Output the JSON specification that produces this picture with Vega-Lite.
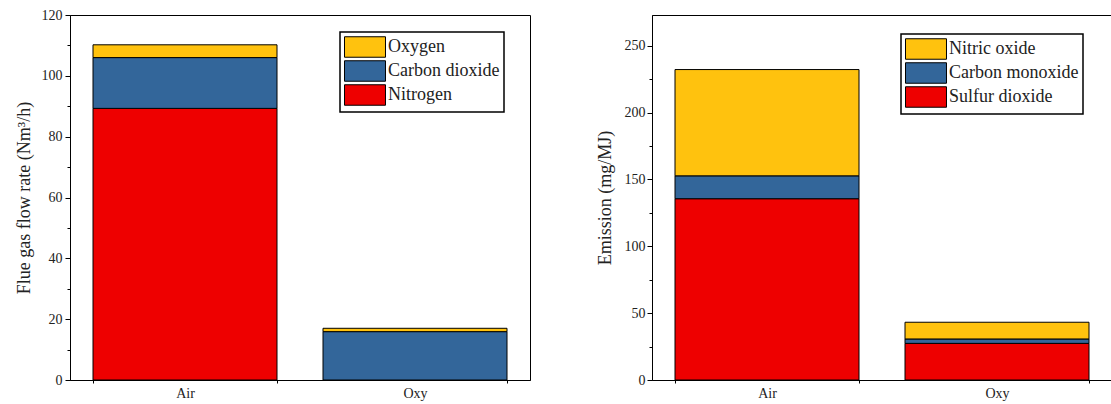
{
  "$schema": "https://vega.github.io/schema/vega-lite/v6.json",
  "padding": {"left": 14, "top": 7, "right": 0, "bottom": 0},
  "datasets": {
    "flow": [
      {"mode": "Air", "gas": "Nitrogen", "value": 89.3, "stack": 1},
      {"mode": "Air", "gas": "Carbon dioxide", "value": 16.7, "stack": 2},
      {"mode": "Air", "gas": "Oxygen", "value": 4.2, "stack": 3},
      {"mode": "Oxy", "gas": "Carbon dioxide", "value": 15.9, "stack": 2},
      {"mode": "Oxy", "gas": "Oxygen", "value": 1.1, "stack": 3}
    ],
    "emission": [
      {"mode": "Air", "gas": "Sulfur dioxide", "value": 135.6, "stack": 1},
      {"mode": "Air", "gas": "Carbon monoxide", "value": 17.1, "stack": 2},
      {"mode": "Air", "gas": "Nitric oxide", "value": 79.5, "stack": 3},
      {"mode": "Oxy", "gas": "Sulfur dioxide", "value": 27.4, "stack": 1},
      {"mode": "Oxy", "gas": "Carbon monoxide", "value": 3.3, "stack": 2},
      {"mode": "Oxy", "gas": "Nitric oxide", "value": 12.5, "stack": 3}
    ]
  },
  "hconcat": [
    {
      "width": 460,
      "height": 365,
      "data": {"name": "flow"},
      "mark": {"type": "bar", "stroke": "black", "strokeWidth": 1},
      "encoding": {
        "x": {
          "field": "mode", "type": "nominal", "sort": ["Air", "Oxy"],
          "scale": {"paddingInner": 0.2, "paddingOuter": 0.1},
          "axis": {"title": null, "labelAngle": 0, "ticks": true, "tickBand": "extent", "tickSize": 3, "labelFontSize": 14, "labelPadding": 3}
        },
        "y": {
          "field": "value", "type": "quantitative", "stack": "zero",
          "scale": {"domain": [0, 120], "nice": false},
          "axis": {
            "title": "Flue gas flow rate (Nm³/h)",
            "values": [0, 10, 20, 30, 40, 50, 60, 70, 80, 90, 100, 110, 120],
            "labelExpr": "datum.value % 20 === 0 ? datum.label : ''",
            "tickSize": {"condition": {"test": "datum.value % 20 === 0", "value": 5}, "value": 3},
            "labelPadding": 3,
            "titlePadding": 8
          }
        },
        "color": {
          "field": "gas", "type": "nominal",
          "scale": {"domain": ["Oxygen", "Carbon dioxide", "Nitrogen"], "range": ["#FFC20E", "#33669A", "#EE0000"]},
          "legend": {"orient": "none", "legendX": 270, "legendY": 17, "title": null}
        },
        "order": {"field": "stack", "type": "quantitative"}
      }
    },
    {
      "width": 460,
      "height": 365,
      "data": {"name": "emission"},
      "mark": {"type": "bar", "stroke": "black", "strokeWidth": 1},
      "encoding": {
        "x": {
          "field": "mode", "type": "nominal", "sort": ["Air", "Oxy"],
          "scale": {"paddingInner": 0.2, "paddingOuter": 0.1},
          "axis": {"title": null, "labelAngle": 0, "ticks": true, "tickBand": "extent", "tickSize": 3, "labelFontSize": 14, "labelPadding": 3}
        },
        "y": {
          "field": "value", "type": "quantitative", "stack": "zero",
          "scale": {"domain": [0, 273], "nice": false},
          "axis": {
            "title": "Emission (mg/MJ)",
            "values": [0, 25, 50, 75, 100, 125, 150, 175, 200, 225, 250],
            "labelExpr": "datum.value % 50 === 0 ? datum.label : ''",
            "tickSize": {"condition": {"test": "datum.value % 50 === 0", "value": 5}, "value": 3},
            "labelPadding": 2,
            "titlePadding": 10
          }
        },
        "color": {
          "field": "gas", "type": "nominal",
          "scale": {"domain": ["Nitric oxide", "Carbon monoxide", "Sulfur dioxide"], "range": ["#FFC20E", "#33669A", "#EE0000"]},
          "legend": {"orient": "none", "legendX": 249, "legendY": 19, "title": null}
        },
        "order": {"field": "stack", "type": "quantitative"}
      }
    }
  ],
  "spacing": 64,
  "resolve": {"scale": {"color": "independent", "y": "independent", "x": "independent"}, "legend": {"color": "independent"}},
  "config": {
    "font": "Liberation Serif",
    "view": {"stroke": "black", "strokeWidth": 1},
    "axis": {
      "grid": false,
      "domainColor": "black",
      "tickColor": "black",
      "labelColor": "#222222",
      "titleColor": "#222222",
      "labelFont": "Liberation Serif",
      "titleFont": "Liberation Serif",
      "labelFontSize": 14,
      "titleFontSize": 18,
      "titleFontWeight": "normal"
    },
    "legend": {
      "strokeColor": "black",
      "strokeWidth": 1.5,
      "fillColor": "white",
      "padding": 4,
      "symbolType": "M-2,-1H2V1H-2Z",
      "symbolSize": 420,
      "symbolOffset": 10,
      "symbolStrokeColor": "black",
      "symbolStrokeWidth": 1,
      "symbolOpacity": 1,
      "labelFont": "Liberation Serif",
      "labelFontSize": 18,
      "labelColor": "#222222",
      "labelOffset": 12,
      "rowPadding": -3
    }
  }
}
